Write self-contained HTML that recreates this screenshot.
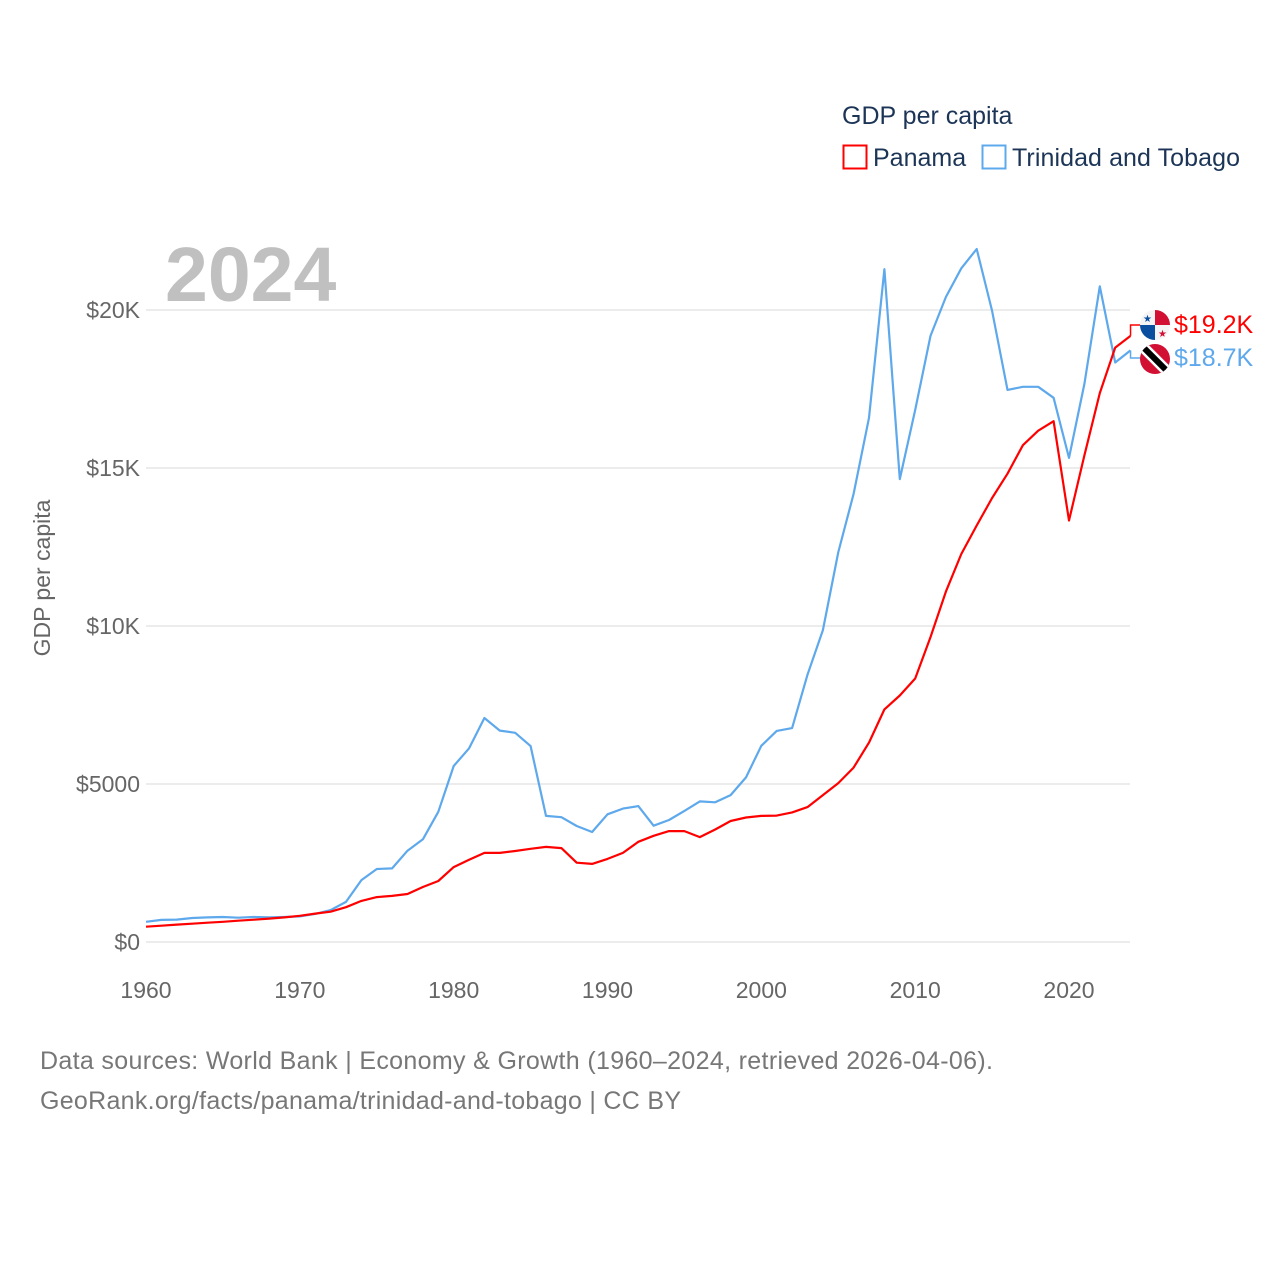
<!DOCTYPE html>
<html><head><meta charset="utf-8">
<style>
body{margin:0;background:#fff;}
svg{display:block;font-family:"Liberation Sans",sans-serif;}
</style></head>
<body>
<svg id="chart" width="1280" height="1280" viewBox="0 0 1280 1280">
  <text x="842" y="124" font-size="25" fill="#1c3557">GDP per capita</text>
  <g>
    <rect x="843.5" y="145.5" width="23" height="23" fill="none" stroke="#ff0000" stroke-width="2"/>
    <text x="873" y="166" font-size="25" fill="#1c3557">Panama</text>
  </g>
  <g>
    <rect x="982.5" y="145.5" width="23" height="23" fill="none" stroke="#5ea8ec" stroke-width="2"/>
    <text x="1012" y="166" font-size="25" fill="#1c3557" textLength="228">Trinidad and Tobago</text>
  </g>
  <text x="165" y="301" font-size="77" font-weight="bold" fill="#c0c0c0">2024</text>
  <text transform="translate(50,578) rotate(-90)" text-anchor="middle" font-size="23" fill="#666">GDP per capita</text>
  <g id="grid"></g>
  <g id="yticks"></g>
  <g id="xticks"></g>
  <g id="series"></g>
  <g id="endlabels"></g>
  <text x="40" y="1069" font-size="25" fill="#777" textLength="953">Data sources: World Bank | Economy &amp; Growth (1960–2024, retrieved 2026-04-06).</text>
  <text x="40" y="1109" font-size="25" fill="#777" textLength="641">GeoRank.org/facts/panama/trinidad-and-tobago | CC BY</text>
</svg>
<script>
const startYear = 1960;
const panama = [485,515,550,580,610,640,675,705,740,780,830,900,960,1100,1300,1420,1460,1520,1740,1930,2370,2600,2820,2820,2880,2950,3010,2970,2510,2470,2630,2820,3170,3360,3510,3510,3320,3560,3830,3940,3990,4000,4100,4270,4650,5030,5520,6310,7360,7800,8340,9650,11090,12280,13180,14050,14820,15720,16180,16480,13340,15400,17370,18810,19180];
const trinidad = [640,700,710,760,780,790,770,790,780,790,810,890,1010,1270,1960,2310,2330,2890,3250,4120,5570,6130,7090,6690,6620,6200,3990,3950,3670,3480,4040,4220,4300,3680,3860,4150,4450,4420,4650,5210,6210,6680,6770,8460,9870,12340,14180,16590,21290,14650,16840,19180,20410,21320,21930,19970,17470,17570,17570,17220,15320,17660,20750,18340,18720];
const yTickValues = [0,5000,10000,15000,20000];
const yTickLabels = ["$0","$5000","$10K","$15K","$20K"];
const xTickValues = [1960,1970,1980,1990,2000,2010,2020];
const endLabels = ["$19.2K","$18.7K"];

const NS="http://www.w3.org/2000/svg";
const xScale = yr => 146 + (yr-1960)*(1069-146)/60;
const yScale = v => 942 - v*(632/20000);
function mk(tag, attrs, parent){const e=document.createElementNS(NS,tag);for(const k in attrs)e.setAttribute(k,attrs[k]);parent.appendChild(e);return e;}

const grid=document.getElementById('grid'), yt=document.getElementById('yticks'), xt=document.getElementById('xticks');
yTickValues.forEach((v,i)=>{
  const y=yScale(v);
  const l=mk('line',{x1:146,x2:1130,y1:y,y2:y,stroke:'#e6e6e6','stroke-width':1.5},grid);
  
  
  const t=mk('text',{x:140,y:y+8,'text-anchor':'end','font-size':23,fill:'#666'},yt);
  t.textContent=yTickLabels[i];
  
  
});
xTickValues.forEach(v=>{
  const t=mk('text',{x:xScale(v),y:998,'text-anchor':'middle','font-size':23,fill:'#666'},xt);
  t.textContent=v;
  
  
});

const ser=document.getElementById('series');
function drawLine(vals,color,name){
  const pts=vals.map((v,i)=>xScale(startYear+i).toFixed(1)+','+yScale(v).toFixed(1)).join(' ');
  const p=mk('polyline',{points:pts,fill:'none',stroke:color,'stroke-width':2.2,'stroke-linejoin':'round'},ser);
  
  
}
drawLine(trinidad,'#5ea8ec','trinidad-line');
drawLine(panama,'#ff0000','panama-line');

const el=document.getElementById('endlabels');
const lastX=xScale(startYear+panama.length-1);
const labelYs=[325,358];
[[panama,'#ff0000'],[trinidad,'#5ea8ec']].forEach((s,i)=>{
  const v=s[0][s[0].length-1], y=yScale(v), ly=labelYs[i];
  const c=mk('polyline',{points:`${lastX},${y} ${lastX},${ly} ${lastX+10},${ly}`,fill:'none',stroke:s[1],'stroke-width':1.5},el);
  
  
  const t=mk('text',{x:1174,y:ly+8,'font-size':25,fill:s[1]},el);
  t.textContent=endLabels[i];
  
  
});
const fp=mk('g',{},el);


fp.innerHTML='<clipPath id="cp1"><circle cx="1155" cy="325" r="15"/></clipPath><g clip-path="url(#cp1)"><rect x="1140" y="310" width="30" height="30" fill="#f4f4f4"/><rect x="1155" y="310" width="15" height="15" fill="#d21034"/><rect x="1140" y="325" width="15" height="15" fill="#0a4ea0"/><text x="1147.5" y="322" font-size="10" text-anchor="middle" fill="#0a4ea0">★</text><text x="1162.5" y="337" font-size="10" text-anchor="middle" fill="#d21034">★</text></g>';
const ft=mk('g',{},el);


ft.innerHTML='<clipPath id="cp2"><circle cx="1155" cy="359" r="15"/></clipPath><g clip-path="url(#cp2)"><rect x="1140" y="344" width="30" height="30" fill="#d21034"/><line x1="1140" y1="344" x2="1170" y2="374" stroke="#fff" stroke-width="11"/><line x1="1140" y1="344" x2="1170" y2="374" stroke="#000" stroke-width="6"/></g>';
</script>
</body></html>
